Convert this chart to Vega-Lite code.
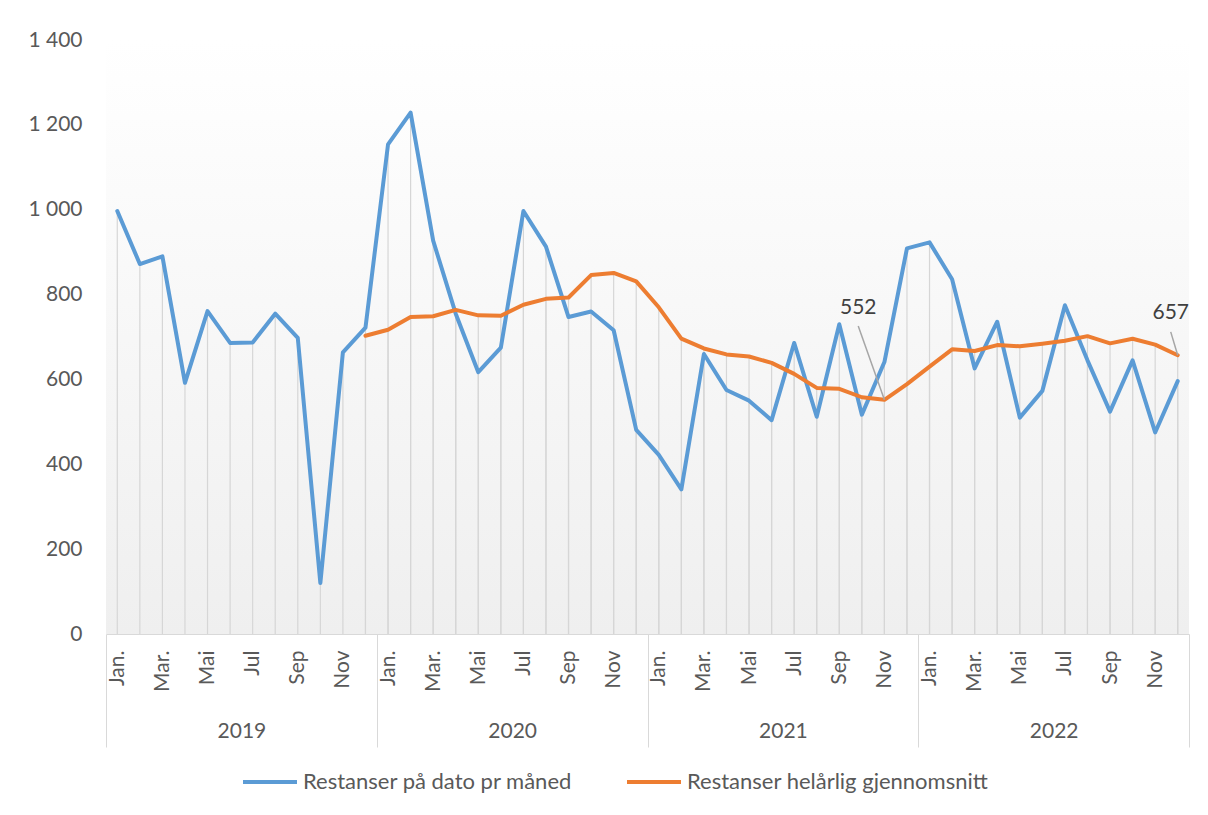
{
  "$schema": "https://vega.github.io/schema/vega-lite/v6.json",
  "width": 1083,
  "height": 594,
  "autosize": "none",
  "padding": {"left": 106, "top": 40, "right": 19, "bottom": 181},
  "background": "white",
  "config": {
    "font": "Lato",
    "view": {
      "stroke": null,
      "fill": {"gradient": "linear", "x1": 0, "y1": 0, "x2": 0, "y2": 1,
        "stops": [{"offset": 0, "color": "#ffffff"}, {"offset": 0.13, "color": "#fdfdfd"}, {"offset": 1, "color": "#efefef"}]}
    },
    "axis": {"labelFont": "Lato", "labelFontSize": 21, "labelColor": "#595959", "grid": false, "title": null}
  },
  "datasets": {
    "m": [
      {"i": 0, "s": "Restanser på dato pr måned", "v": 997},
      {"i": 1, "s": "Restanser på dato pr måned", "v": 872},
      {"i": 2, "s": "Restanser på dato pr måned", "v": 890},
      {"i": 3, "s": "Restanser på dato pr måned", "v": 592},
      {"i": 4, "s": "Restanser på dato pr måned", "v": 761},
      {"i": 5, "s": "Restanser på dato pr måned", "v": 686},
      {"i": 6, "s": "Restanser på dato pr måned", "v": 687},
      {"i": 7, "s": "Restanser på dato pr måned", "v": 755},
      {"i": 8, "s": "Restanser på dato pr måned", "v": 698},
      {"i": 9, "s": "Restanser på dato pr måned", "v": 120},
      {"i": 10, "s": "Restanser på dato pr måned", "v": 664},
      {"i": 11, "s": "Restanser på dato pr måned", "v": 722},
      {"i": 12, "s": "Restanser på dato pr måned", "v": 1154},
      {"i": 13, "s": "Restanser på dato pr måned", "v": 1229},
      {"i": 14, "s": "Restanser på dato pr måned", "v": 927},
      {"i": 15, "s": "Restanser på dato pr måned", "v": 755},
      {"i": 16, "s": "Restanser på dato pr måned", "v": 617},
      {"i": 17, "s": "Restanser på dato pr måned", "v": 675},
      {"i": 18, "s": "Restanser på dato pr måned", "v": 997},
      {"i": 19, "s": "Restanser på dato pr måned", "v": 913},
      {"i": 20, "s": "Restanser på dato pr måned", "v": 747},
      {"i": 21, "s": "Restanser på dato pr måned", "v": 760},
      {"i": 22, "s": "Restanser på dato pr måned", "v": 716},
      {"i": 23, "s": "Restanser på dato pr måned", "v": 481},
      {"i": 24, "s": "Restanser på dato pr måned", "v": 422},
      {"i": 25, "s": "Restanser på dato pr måned", "v": 341},
      {"i": 26, "s": "Restanser på dato pr måned", "v": 660},
      {"i": 27, "s": "Restanser på dato pr måned", "v": 575},
      {"i": 28, "s": "Restanser på dato pr måned", "v": 550},
      {"i": 29, "s": "Restanser på dato pr måned", "v": 504},
      {"i": 30, "s": "Restanser på dato pr måned", "v": 686},
      {"i": 31, "s": "Restanser på dato pr måned", "v": 512},
      {"i": 32, "s": "Restanser på dato pr måned", "v": 730},
      {"i": 33, "s": "Restanser på dato pr måned", "v": 517},
      {"i": 34, "s": "Restanser på dato pr måned", "v": 641},
      {"i": 35, "s": "Restanser på dato pr måned", "v": 909},
      {"i": 36, "s": "Restanser på dato pr måned", "v": 923},
      {"i": 37, "s": "Restanser på dato pr måned", "v": 836},
      {"i": 38, "s": "Restanser på dato pr måned", "v": 626},
      {"i": 39, "s": "Restanser på dato pr måned", "v": 736},
      {"i": 40, "s": "Restanser på dato pr måned", "v": 510},
      {"i": 41, "s": "Restanser på dato pr måned", "v": 573},
      {"i": 42, "s": "Restanser på dato pr måned", "v": 775},
      {"i": 43, "s": "Restanser på dato pr måned", "v": 645},
      {"i": 44, "s": "Restanser på dato pr måned", "v": 524},
      {"i": 45, "s": "Restanser på dato pr måned", "v": 645},
      {"i": 46, "s": "Restanser på dato pr måned", "v": 475},
      {"i": 47, "s": "Restanser på dato pr måned", "v": 596},
      {"i": 11, "s": "Restanser helårlig gjennomsnitt", "v": 703},
      {"i": 12, "s": "Restanser helårlig gjennomsnitt", "v": 717},
      {"i": 13, "s": "Restanser helårlig gjennomsnitt", "v": 747},
      {"i": 14, "s": "Restanser helårlig gjennomsnitt", "v": 749},
      {"i": 15, "s": "Restanser helårlig gjennomsnitt", "v": 764},
      {"i": 16, "s": "Restanser helårlig gjennomsnitt", "v": 751},
      {"i": 17, "s": "Restanser helårlig gjennomsnitt", "v": 750},
      {"i": 18, "s": "Restanser helårlig gjennomsnitt", "v": 776},
      {"i": 19, "s": "Restanser helårlig gjennomsnitt", "v": 790},
      {"i": 20, "s": "Restanser helårlig gjennomsnitt", "v": 793},
      {"i": 21, "s": "Restanser helårlig gjennomsnitt", "v": 846},
      {"i": 22, "s": "Restanser helårlig gjennomsnitt", "v": 851},
      {"i": 23, "s": "Restanser helårlig gjennomsnitt", "v": 831},
      {"i": 24, "s": "Restanser helårlig gjennomsnitt", "v": 770},
      {"i": 25, "s": "Restanser helårlig gjennomsnitt", "v": 696},
      {"i": 26, "s": "Restanser helårlig gjennomsnitt", "v": 673},
      {"i": 27, "s": "Restanser helårlig gjennomsnitt", "v": 659},
      {"i": 28, "s": "Restanser helårlig gjennomsnitt", "v": 654},
      {"i": 29, "s": "Restanser helårlig gjennomsnitt", "v": 639},
      {"i": 30, "s": "Restanser helårlig gjennomsnitt", "v": 613},
      {"i": 31, "s": "Restanser helårlig gjennomsnitt", "v": 580},
      {"i": 32, "s": "Restanser helårlig gjennomsnitt", "v": 578},
      {"i": 33, "s": "Restanser helårlig gjennomsnitt", "v": 558},
      {"i": 34, "s": "Restanser helårlig gjennomsnitt", "v": 552},
      {"i": 35, "s": "Restanser helårlig gjennomsnitt", "v": 589},
      {"i": 36, "s": "Restanser helårlig gjennomsnitt", "v": 630},
      {"i": 37, "s": "Restanser helårlig gjennomsnitt", "v": 671},
      {"i": 38, "s": "Restanser helårlig gjennomsnitt", "v": 667},
      {"i": 39, "s": "Restanser helårlig gjennomsnitt", "v": 681},
      {"i": 40, "s": "Restanser helårlig gjennomsnitt", "v": 678},
      {"i": 41, "s": "Restanser helårlig gjennomsnitt", "v": 684},
      {"i": 42, "s": "Restanser helårlig gjennomsnitt", "v": 691},
      {"i": 43, "s": "Restanser helårlig gjennomsnitt", "v": 702},
      {"i": 44, "s": "Restanser helårlig gjennomsnitt", "v": 685},
      {"i": 45, "s": "Restanser helårlig gjennomsnitt", "v": 696},
      {"i": 46, "s": "Restanser helårlig gjennomsnitt", "v": 682},
      {"i": 47, "s": "Restanser helårlig gjennomsnitt", "v": 657}
    ]
  },
  "layer": [
    {
      "data": {"name": "m"},
      "mark": {"type": "rule", "color": "#d6d6d6", "strokeWidth": 1.2},
      "encoding": {
        "x": {"field": "i", "type": "quantitative",
          "scale": {"domain": [-0.5, 47.5], "nice": false, "zero": false},
          "axis": {"orient": "bottom", "values": [-0.5, 11.5, 23.5, 35.5, 47.5], "labels": false,
            "ticks": true, "tickSize": 113, "tickColor": "#d9d9d9", "tickWidth": 1,
            "domain": true, "domainColor": "#d9d9d9", "domainWidth": 1}},
        "y": {"field": "v", "type": "quantitative",
          "scale": {"domain": [0, 1400], "nice": false},
          "axis": {"values": [0, 200, 400, 600, 800, 1000, 1200, 1400],
            "labelExpr": "replace(format(datum.value, ','), ',', ' ')",
            "ticks": false, "domain": false, "labelPadding": 24, "title": null}},
        "y2": {"datum": 0}
      }
    },
    {
      "data": {"name": "m"},
      "mark": {"type": "line", "strokeWidth": 4, "strokeCap": "round", "strokeJoin": "round"},
      "encoding": {
        "x": {"field": "i", "type": "quantitative",
          "scale": {"domain": [-0.5, 47.5], "nice": false, "zero": false},
          "axis": {"orient": "bottom", "values": [0, 2, 4, 6, 8, 10, 12, 14, 16, 18, 20, 22, 24, 26, 28, 30, 32, 34, 36, 38, 40, 42, 44, 46],
            "labelExpr": "['Jan.','Feb.','Mar.','Apr.','Mai','Jun','Jul','Aug','Sep','Okt','Nov','Des'][datum.value % 12]",
            "labelAngle": -90, "ticks": false, "domain": false, "labelPadding": 16,
            "labelOverlap": false, "labelFlush": false}},
        "y": {"field": "v", "type": "quantitative", "scale": {"domain": [0, 1400], "nice": false},
          "axis": {"values": [0, 200, 400, 600, 800, 1000, 1200, 1400],
            "labelExpr": "replace(format(datum.value, ','), ',', ' ')",
            "ticks": false, "domain": false, "labelPadding": 24, "title": null}},
        "color": {"field": "s", "type": "nominal",
          "scale": {"domain": ["Restanser på dato pr måned", "Restanser helårlig gjennomsnitt"], "range": ["#5b9bd5", "#ed7d31"]},
          "legend": {"orient": "none", "legendX": 135, "legendY": 713, "direction": "horizontal", "title": null,
            "symbolType": "stroke", "symbolSize": 2916, "symbolStrokeWidth": 4,
            "labelFontSize": 22, "labelColor": "#595959", "labelFont": "Lato", "labelOffset": 4,
            "columnPadding": 46, "labelLimit": 400}}
      }
    },
    {
      "data": {"values": [{"i": 32.84, "v": 768, "t": "552"}, {"i": 46.69, "v": 756, "t": "657"}]},
      "mark": {"type": "text", "fontSize": 21, "color": "#404040", "font": "Lato"},
      "encoding": {
        "x": {"field": "i", "type": "quantitative",
          "scale": {"domain": [-0.5, 47.5], "nice": false, "zero": false},
          "axis": {"orient": "bottom", "values": [5.5, 17.5, 29.5, 41.5],
            "labelExpr": "['2019','2020','2021','2022'][floor(datum.value / 12)]",
            "labelAngle": 0, "ticks": false, "domain": false, "labelPadding": 86,
            "labelOverlap": false, "labelFlush": false}},
        "y": {"field": "v", "type": "quantitative", "scale": {"domain": [0, 1400], "nice": false},
          "axis": {"values": [0, 200, 400, 600, 800, 1000, 1200, 1400],
            "labelExpr": "replace(format(datum.value, ','), ',', ' ')",
            "ticks": false, "domain": false, "labelPadding": 24, "title": null}},
        "text": {"field": "t"}
      }
    },
    {
      "data": {"values": [{"i": 32.84, "v": 726, "i2": 34, "v2": 552}, {"i": 46.69, "v": 712, "i2": 47, "v2": 657}]},
      "mark": {"type": "rule", "color": "#a6a6a6", "strokeWidth": 1.5},
      "encoding": {
        "x": {"field": "i", "type": "quantitative",
          "scale": {"domain": [-0.5, 47.5], "nice": false, "zero": false}, "axis": null},
        "x2": {"field": "i2"},
        "y": {"field": "v", "type": "quantitative", "scale": {"domain": [0, 1400], "nice": false},
          "axis": {"values": [0, 200, 400, 600, 800, 1000, 1200, 1400],
            "labelExpr": "replace(format(datum.value, ','), ',', ' ')",
            "ticks": false, "domain": false, "labelPadding": 24, "title": null}},
        "y2": {"field": "v2"}
      }
    }
  ],
  "resolve": {"scale": {"x": "independent"}, "axis": {"x": "independent"}}
}
